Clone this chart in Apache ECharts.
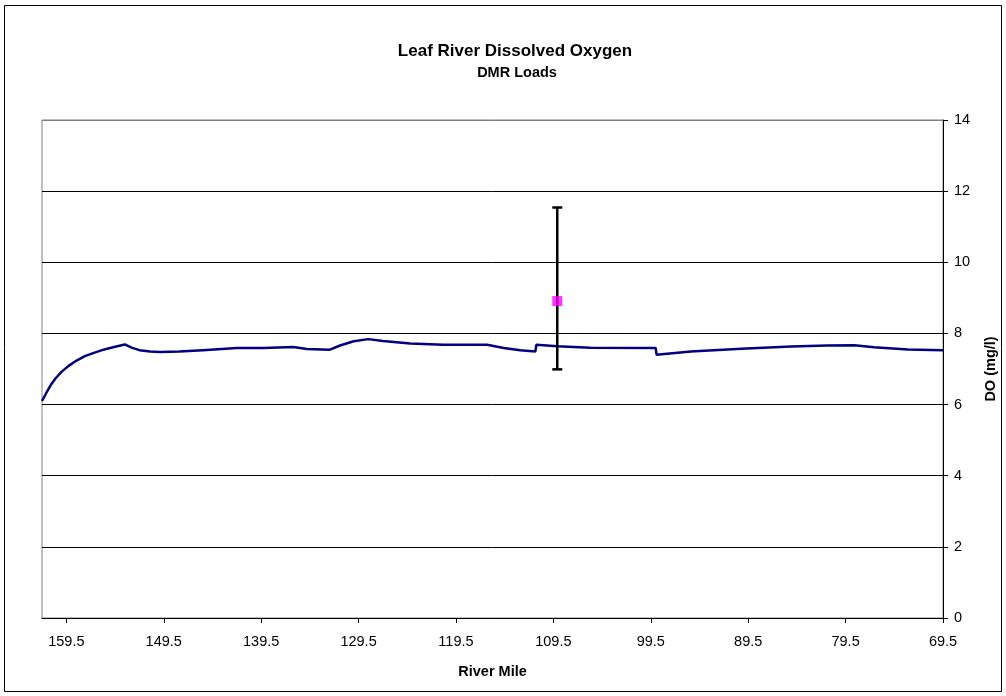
<!DOCTYPE html>
<html>
<head>
<meta charset="utf-8">
<script src="https://cdn.jsdelivr.net/npm/echarts@6/dist/echarts.min.js"></script>
<style>
html,body{margin:0;padding:0;background:#fff;}
#chart{width:1006px;height:696px;}
</style>
</head>
<body>
<div id="chart"></div>
<script>
// Model DO profile (river mile, DO mg/l)
const riverMile = [162.0, 161.8, 161.5, 161.1, 160.6, 160.0, 159.3, 158.5, 157.6, 156.6, 155.6, 154.6, 153.5, 152.8, 152.0, 150.9, 149.9, 147.9, 145.5, 142.0, 139.3, 136.2, 134.8, 132.5, 131.4, 130.0, 128.5, 127.0, 124.2, 120.8, 116.3, 114.6, 112.9, 111.35, 111.25, 109.1, 105.7, 99.0, 98.9, 95.4, 90.2, 85.1, 81.4, 78.6, 76.6, 73.1, 69.5];
const doModel   = [6.10, 6.20, 6.36, 6.55, 6.74, 6.92, 7.08, 7.23, 7.36, 7.46, 7.55, 7.62, 7.69, 7.60, 7.53, 7.49, 7.48, 7.49, 7.53, 7.59, 7.59, 7.62, 7.56, 7.54, 7.66, 7.78, 7.84, 7.79, 7.72, 7.68, 7.68, 7.59, 7.53, 7.49, 7.68, 7.64, 7.60, 7.59, 7.40, 7.49, 7.57, 7.63, 7.66, 7.67, 7.61, 7.55, 7.53];

// Observed DO (mean with min/max range)
const obsMile = [109.1];
const obsMean = [8.91];
const obsMin  = [6.99];
const obsMax  = [11.54];

// Axis ticks
const xTicks = [159.5, 149.5, 139.5, 129.5, 119.5, 109.5, 99.5, 89.5, 79.5, 69.5];
const yTicks = [0, 2, 4, 6, 8, 10, 12, 14];

const FONT = 'Liberation Sans, Arial, sans-serif';

const chart = echarts.init(document.getElementById('chart'));
const lineData = riverMile.map((m, i) => [m, doModel[i]]);
const obsRange = obsMile.map((m, i) => [m, obsMin[i], obsMax[i]]);
const obsPts = obsMile.map((m, i) => [m, obsMean[i]]);

chart.setOption({
  animation: false,
  backgroundColor: '#fff',
  title: [
    {text: 'Leaf River Dissolved Oxygen', left: 510, top: 38, textAlign: 'center',
     textStyle: {fontFamily: FONT, fontSize: 17, fontWeight: 'bold', color: '#000'}},
    {text: 'DMR Loads', left: 512, top: 60, textAlign: 'center',
     textStyle: {fontFamily: FONT, fontSize: 14.5, fontWeight: 'bold', color: '#000'}}
  ],
  graphic: [{
    type: 'rect', shape: {x: 4.5, y: 5.5, width: 997, height: 686}, silent: true,
    style: {fill: 'none', stroke: '#000', lineWidth: 1}, z: -10
  }],
  grid: {left: 42, right: 62.5, top: 120, bottom: 78, show: true, borderColor: '#808080', borderWidth: 1, backgroundColor: '#fff'},
  xAxis: {
    type: 'value', inverse: true, min: 69.5, max: 162,
    name: 'River Mile', nameLocation: 'middle', nameGap: 46,
    nameTextStyle: {fontFamily: FONT, fontSize: 14.5, fontWeight: 'bold', color: '#000'},
    axisLine: {show: true, onZero: false, lineStyle: {color: '#000', width: 1}},
    axisTick: {show: true, length: 5, customValues: xTicks, lineStyle: {color: '#000'}},
    axisLabel: {customValues: xTicks, margin: 16, fontFamily: FONT, fontSize: 14.5, color: '#000',
      formatter: v => v.toFixed(1)},
    splitLine: {show: false}
  },
  yAxis: {
    type: 'value', position: 'right', min: 0, max: 14, interval: 2,
    name: 'DO (mg/l)', nameLocation: 'middle', nameGap: 40, nameRotate: 90,
    nameTextStyle: {fontFamily: FONT, fontSize: 14.5, fontWeight: 'bold', color: '#000'},
    axisLine: {show: true, onZero: false, lineStyle: {color: '#000', width: 1}},
    axisTick: {show: true, length: 5, lineStyle: {color: '#000'}},
    axisLabel: {margin: 11, fontFamily: FONT, fontSize: 14.5, color: '#000'},
    splitLine: {show: true, lineStyle: {color: ['#000', '#000', '#000', '#000', '#000', '#000', '#000', '#808080'], width: 1}}
  },
  series: [
    {
      type: 'line', data: lineData, showSymbol: false, symbol: 'none',
      lineStyle: {color: '#000080', width: 2.5}, z: 3
    },
    {
      type: 'custom', data: obsRange, encode: {x: 0, y: [1, 2]}, z: 4,
      renderItem: function (params, api) {
        const x = api.value(0);
        const pLo = api.coord([x, api.value(1)]);
        const pHi = api.coord([x, api.value(2)]);
        const w = 5;
        const st = {stroke: '#000', lineWidth: 2.5};
        return {type: 'group', children: [
          {type: 'line', shape: {x1: pLo[0], y1: pLo[1], x2: pHi[0], y2: pHi[1]}, style: st},
          {type: 'line', shape: {x1: pHi[0] - w, y1: pHi[1], x2: pHi[0] + w, y2: pHi[1]}, style: st},
          {type: 'line', shape: {x1: pLo[0] - w, y1: pLo[1], x2: pLo[0] + w, y2: pLo[1]}, style: st}
        ]};
      }
    },
    {
      type: 'scatter', data: obsPts, symbol: 'rect', symbolSize: 10, z: 5,
      itemStyle: {color: '#FF00FF'}
    }
  ]
});
</script>
</body>
</html>
